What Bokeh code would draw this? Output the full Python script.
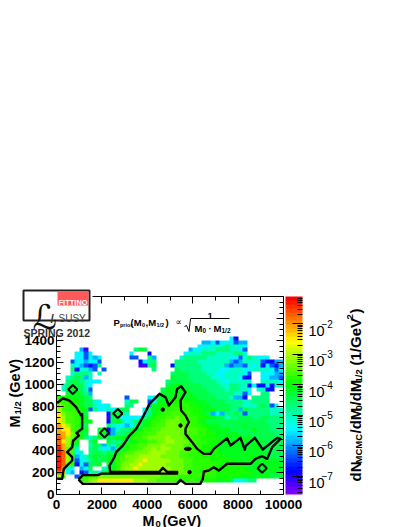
import colorsys
import math
import numpy as np
from bokeh.embed import file_html
from bokeh.resources import INLINE
from bokeh.plotting import figure
from bokeh.models import (Range1d, LinearAxis, FixedTicker, LinearColorMapper,
                          LogColorMapper, ColorBar, LogTicker, Label, BoxAnnotation, CustomJSTickFormatter)

# ---- data -----------------------------------------------------------------
# histogram binning
M0_BIN = 200.0
M12_BIN = 36.0
N_M0, N_M12 = 50, 50
# density class -> log10(dN/dM0/dM1/2)
LOG_DENSITY = dict(a=-7.2, b=-6.8, c=-6.3, d=-5.8, e=-5.4, f=-5.0, g=-4.7, h=-4.4, i=-4.1, j=-3.95,
                   k=-3.8, l=-3.6, m=-3.4, n=-3.1, o=-2.5, p=-2.1, q=-1.7, r=-1.3)
# row index of M1/2 -> list of (first M0 column, density classes)
DENSITY_ROWS = {
    39: [(38, "eb")],
    38: [(32, "ddeceeecdd")],
    37: [(31, "eeefffgfffe")],
    36: [(5, "da"), (17, "gih"), (29, "deefffgggffec")],
    35: [(4, "eece"), (16, "e"), (20, "b"), (28, "efffgggffffggf")],
    34: [(4, "eecede"), (16, "cc"), (20, "gd"), (27, "fgggggfffffeecfgfeee")],
    33: [(3, "ceedeec"), (18, "begg"), (26, "gggggfffffffdcdffffcbbdd")],
    32: [(3, "fedcbcg"), (18, "aagh"), (25, "bggggggfffffdcddcfefbecbd")],
    31: [(3, "gbefdc"), (10, "c"), (21, "g"), (26, "hgggggffffeefffeeffffece")],
    30: [(3, "fgggf"), (9, "f"), (25, "ghhhggggffeeffffec"), (45, "eeedd")],
    29: [(2, "fghgdf"), (25, "ihhhgggggffefffebb"), (45, "eeddc")],
    28: [(2, "ghhgfeee"), (24, "ghhhhhgggggffefffff"), (45, "ffffe")],
    27: [(1, "fghhhfe"), (24, "hiiihhhhggggffggffb"), (43, "ebbebff")],
    26: [(1, "fhihhfc"), (23, "hiiiiihhhhggggfggffe"), (44, "ffbb")],
    25: [(2, "hiihgd"), (23, "iiijiiihhhhgggggffce"), (45, "gg")],
    24: [(0, "jkjiiihg"), (15, "c"), (20, "eehiiijjiiihhhhgggfddb"), (43, "gggg")],
    23: [(0, "lkkjjihhfe"), (15, "fhh"), (20, "ceiijjjkjjiiihhhhggggffgggg")],
    22: [(0, "mlkkjihhfeef"), (15, "gg"), (20, "diijjkkkkjjiiihhhhgggfffghgce")],
    21: [(0, "nlkkkjicgeefeghh"), (19, "egijkkkllkkjjiiihhhggdhgggggfff")],
    20: [(0, "omllkjh"), (11, "bihgf"), (19, "egijkklllkkjjihdedgghgcgggggfff")],
    19: [(0, "onllkji"), (11, "ahheeeee"), (19, "ghjkkllmllkkjjiihhfgghhhgghhggg")],
    18: [(0, "onllkjii"), (11, "bhigefg"), (18, "hijkklmmmllkkjihhhhhhhhhhhhhgggg")],
    17: [(0, "ponlkih"), (11, "gfeedeg"), (18, "hijkllmmmmllkkjiiihhhhhihhhhhggg")],
    16: [(0, "poolkii"), (9, "hi"), (11, "bdfgghii"), (19, "kkllmmmmmmllkkjiiiihhhhhihhhggg")],
    15: [(0, "ppomkih"), (9, "hi"), (11, "cdgghij"), (18, "kkllmmmmmmlllkkjjiiiiihhhhhhhhgg")],
    14: [(0, "qpnmkjgf"), (8, "gihhhiiij"), (17, "kklmmmmnmmmllkkjjjiiiiiiiihhhhhhh")],
    13: [(0, "qonli"), (7, "gi"), (11, "hgghhi"), (17, "jkkllmmnnmmmllkkjjjiiiiiiiiihhhhh")],
    12: [(0, "qpnkh"), (7, "fhh"), (10, "dgfhij"), (16, "kkllmmmnmmmmllkkjjjjiiiiiiiiihhhhh")],
    11: [(0, "rpmkf"), (7, "ghfeedghj"), (16, "kklmmnmnnmmmllkkjjjjiiiiiiiiiihhhh")],
    10: [(0, "rqmlef"), (7, "ghhghhi"), (14, "kllmmmnnnnmmmllkkjjjjjiiiiiiiiiihhhh")],
    9: [(0, "rqnkdef"), (7, "hihhii"), (13, "klmmmnnnnnmmmmllkkkjjjjjiiiiiiiiiihhh")],
    8: [(0, "rqnlcefghhhii"), (13, "klmmnnonnnnnmmmllkkkkjjjjjiiiiiiiiiih")],
    7: [(0, "rqmkbech"), (8, "hi"), (11, "hi"), (13, "kmmnnonnnnnmmmmllkkkkkjjjjjjiiiiiiiii")],
    6: [(0, "rpfe"), (5, "deh"), (10, "fgi"), (13, "kmnnonnnnnnnmmmllkkkkkjjjjjjjiiiiiiii")],
    5: [(0, "qoed"), (5, "bcfg"), (9, "ehi"), (12, "jkmnnnnnnnnnnmmmmlkkkkkjjjjjjjjiiiiiii")],
    4: [(0, "nl"), (4, "c"), (5, "jkllmmmmmmmmmmmmmmllllkkkkkkkkjjjjjjiiiiiihhh")],
    3: [(5, "klmnoooooooonnnmmllllkkkkkjjjjiiih"), (39, "eefgg")],
}

# 95% contour, left island
LEFT_M0 = [30, 250, 320, 690, 690, 470, 690, 735, 985, 880, 1130, 1130, 1087, 866, 572, 279, 29]
LEFT_M12 = [143, 143, 233, 309, 339, 385, 430, 491, 536, 560, 597, 733, 718, 794, 854, 875, 830]
# contour, main region
MAIN_M0 = [969, 1160, 5315, 5462, 5683, 6344, 6446, 6490, 6710, 6930, 7150, 7518, 8546, 8767, 9060, 9280,
           9500, 9866, 9720, 9088, 8737, 8326, 8296, 8105, 7664, 7518, 6930, 6783, 6490, 6197, 5976, 5683,
           5683, 5830, 5683, 5491, 5462, 5683, 5491, 5315, 5242, 4949, 4802, 4537, 4317, 4097, 3803, 3509,
           3215, 2921, 2627, 2553, 2334, 2363, 4537, 4684, 4875, 5315, 5315, 1968, 1821, 1160, 969]
MAIN_M12 = [136, 97, 97, 133, 97, 97, 142, 209, 218, 248, 218, 279, 279, 324, 348, 324,
            430, 506, 515, 409, 515, 439, 406, 515, 445, 512, 415, 369, 369, 415, 476, 551,
            597, 657, 718, 763, 854, 930, 984, 960, 884, 809, 884, 915, 869, 824, 703, 597,
            536, 445, 385, 339, 263, 206, 206, 242, 206, 206, 190, 190, 176, 176, 136]
# small closed contours
DIAMOND_M0 = [718, 2700, 2114, 9060]
DIAMOND_M12 = [954, 736, 560, 239]
DOT_M0 = [4680, 5462, 5860]
DOT_M12 = [772, 627, 203]
DASH_M0 = [5784]
DASH_M12 = [415]

M0_MAJOR = [0, 2000, 4000, 6000, 8000, 10000]
M0_MINOR = [1000, 3000, 5000, 7000, 9000]
M12_MAJOR = [0, 200, 400, 600, 800, 1000, 1200, 1400, 1600, 1800]
M12_LABELS = {1600: "", 1800: ""}
CB_EXPONENTS = ["−2", "−3", "−4", "−5", "−6", "−7"]
LOG_LOW, LOG_HIGH = -7.6, -1.1

# ---- layout -----------------------------------------------------------------
X0, Y0 = 56, 494            # page pixel of M0=0, M1/2=0
FW, FH = 227, 198           # page pixels of the axes box
OFF = 0
W, H = 407, 527
def gx(X): return (X - X0) / FW * 10000
def gy(Y): return (Y0 - Y) / FH * 1800

# ROOT rainbow palette
palette = []
for k in range(50):
    r, g, b = colorsys.hsv_to_rgb((270 - 270 * k / 49) / 360, 1, 1)
    palette.append("#%02x%02x%02x" % (round(r * 255), round(g * 255), round(b * 255)))

density = np.full((N_M12, N_M0), np.nan)
for row, segs in DENSITY_ROWS.items():
    for start, codes in segs:
        for i, c in enumerate(codes):
            col = start + i
            if col < N_M0:
                density[row, col] = LOG_DENSITY[c]

p = figure(width=W, height=H, output_backend="svg", toolbar_location=None,
           x_range=Range1d(gx(OFF), gx(OFF + W)), y_range=Range1d(gy(OFF + H), gy(OFF)),
           min_border=0, outline_line_color=None,
           background_fill_color="white", border_fill_color="white")
p.grid.visible = False

mapper = LinearColorMapper(palette=palette, low=LOG_LOW, high=LOG_HIGH, nan_color=(0, 0, 0, 0))
p.image(image=[density], x=0, y=0, dw=N_M0 * M0_BIN, dh=N_M12 * M12_BIN, color_mapper=mapper)

p.line(LEFT_M0, LEFT_M12, line_color="black", line_width=2.4, line_join="round")
p.line(MAIN_M0, MAIN_M12, line_color="black", line_width=2.4, line_join="round")
p.scatter(DIAMOND_M0, DIAMOND_M12, marker="square", size=6.5, angle=math.pi / 4, fill_alpha=0,
          line_color="black", line_width=2)
p.scatter(DOT_M0, DOT_M12, marker="circle", size=3.5, color="black", fill_alpha=1.0)
p.ellipse(DASH_M0, DASH_M12, width=310, height=30, color="black", fill_alpha=1.0)

FONT = "Liberation Sans"
def style_axis(ax, labels=True):
    ax.axis_line_color = "black"
    ax.axis_line_width = 1
    ax.major_tick_in = 7
    ax.major_tick_out = 0
    ax.minor_tick_in = 4
    ax.minor_tick_out = 0
    ax.major_tick_line_color = "black"
    ax.minor_tick_line_color = "black"
    if labels:
        ax.major_label_text_font = FONT
        ax.major_label_text_font_style = "bold"
        ax.major_label_text_font_size = "13.5px"
        ax.major_label_text_color = "black"

xticker = FixedTicker(ticks=M0_MAJOR, minor_ticks=M0_MINOR)
yticker = FixedTicker(ticks=M12_MAJOR, minor_ticks=[v for v in range(0, 1801, 50) if v % 200])

xa = p.xaxis[0]
xa.ticker = xticker
xa.fixed_location = 0
xa.bounds = (0, 10000)
style_axis(xa)
xa.major_label_standoff = 5
ya = p.yaxis[0]
ya.ticker = yticker
ya.fixed_location = 0
ya.bounds = (0, 1800)
style_axis(ya)
ya.major_label_standoff = 2
ya.major_label_overrides = M12_LABELS

top = LinearAxis(ticker=xticker, fixed_location=1800, bounds=(0, 10000),
                 major_label_overrides={t: "" for t in M0_MAJOR})
style_axis(top, False)
p.add_layout(top, "above")
right = LinearAxis(ticker=yticker, fixed_location=10000, bounds=(0, 1800),
                   major_label_overrides={t: "" for t in M12_MAJOR})
style_axis(right, False)
p.add_layout(right, "right")

# colour bar
log_mapper = LogColorMapper(palette=palette, low=10 ** LOG_LOW, high=10 ** LOG_HIGH)
cb = ColorBar(color_mapper=log_mapper, ticker=LogTicker(num_minor_ticks=10),
              formatter=CustomJSTickFormatter(code="return ''"),
              width=17, height=FH, padding=0, margin=0, location=(285 - OFF, OFF + H - Y0),
              major_tick_in=10, major_tick_line_color="black", major_tick_line_width=1,
              minor_tick_in=5, minor_tick_line_color="black",
              bar_line_color=None, border_line_color=None,
              background_fill_color=None, label_standoff=0)
p.add_layout(cb)

def text(s, X, Y, size, bold=True, color="black", angle=0.0, font=FONT, style=None, align="left", baseline="alphabetic"):
    p.add_layout(Label(x=gx(X), y=gy(Y), text=s,
                       text_font=font, text_font_size="%gpx" % size,
                       text_font_style=style or ("bold" if bold else "normal"),
                       text_color=color, angle=angle, text_align=align, text_baseline=baseline))

def box(X1, Y1, X2, Y2, fill, line=None, lw=0):
    p.add_layout(BoxAnnotation(left=gx(X1), right=gx(X2), top=gy(Y1), bottom=gy(Y2),
                               fill_color=fill, fill_alpha=1, line_color=line, line_width=lw,
                               line_alpha=1 if line else 0, level="annotation"))

# colour bar tick labels
for i, e in enumerate(CB_EXPONENTS):
    base = 330.5 + i * 30.3
    text("10", 308, base, 14.5, bold=False)
    text(e, 321, base - 7, 10, bold=False)

# axis titles
text("M", 142, 520, 14.5)
text("0", 155, 523, 9.5)
text("(GeV)", 162, 520, 14.5)

up = math.pi / 2
text("M", 14, 427, 14.5, angle=up)
text("1/2", 17, 414, 9.5, angle=up)
text("(GeV)", 14, 397, 14.5, angle=up)

text("dN", 355, 481, 15, angle=up)
text("MCMC", 358, 463, 9.5, angle=up)
text("/dM", 355, 433, 15, angle=up)
text("0", 358, 410, 9.5, angle=up)
text("/dM", 355, 405, 15, angle=up)
text("1/2", 358, 382, 9.5, angle=up)
text("(1/GeV", 355, 365, 15, angle=up)
text("2", 349, 319, 9.5, angle=up)
text(")", 355, 313, 15, angle=up)

# prior formula
for s, X, Y, sz in [("P", 113, 322, 9.5), ("prior", 119.5, 324, 5.5), ("(M", 130, 322, 9.5), ("0", 141.5, 324, 5.5),
                    (",M", 145, 322, 9.5), ("1/2", 156, 324, 5.5), (")", 165, 322, 9.5),
                    ("1", 207, 315, 9.5), ("M", 194, 328, 9.5), ("0", 202, 330, 6.5), ("·", 208, 328, 9.5),
                    ("M", 213, 328, 9.5), ("1/2", 221, 330, 6.5)]:
    text(s, X, Y, sz)
text("∝", 175, 321, 9, bold=False, font="DejaVu Sans")
p.line([gx(190), gx(229)], [gy(318), gy(318)], line_color="black", line_width=1)
p.line([gx(184), gx(186), gx(188.5), gx(190)], [gy(326), gy(325), gy(331), gy(318.5)], line_color="black", line_width=1)

# logo
box(0, 280, 92, 335, "white")
box(23, 290, 89, 320, "white", "#222222", 2)
box(57, 291, 88, 305, "#ff5a5a")
text("FITTINO", 58, 301.5, 7.5, color="white")
text("ℒ", 32, 316, 34, bold=False, font="DejaVu Sans", color="#111111")
text("/", 50, 318, 12, color="#333333")
text("SUSY", 58, 318, 10, bold=False, color="#444444")
text("SPRING 2012", 23, 332, 10.5, color="#333333")

open("out.html", "w").write(file_html(p, INLINE))
